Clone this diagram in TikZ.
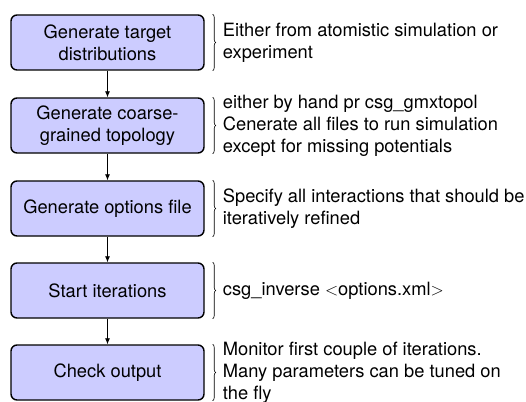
\documentclass[tikz,border=0pt]{standalone}
\usepackage{fontspec}
\setmainfont{TeX Gyre Heros}
\usetikzlibrary{arrows.meta,decorations.pathreplacing}
\tikzset{
  stepbox/.style={draw=black, line width=1.4pt, fill=blue!20, rounded corners=6pt,
    minimum width=193pt, minimum height=55pt, inner sep=0pt, align=center,
    font=\fontsize{18.3}{22}\selectfont},
  desc/.style={anchor=west, inner sep=0pt, align=left, font=\fontsize{18.3}{22}\selectfont},
  flow/.style={-{Latex[length=6pt,width=5pt]}, line width=0.8pt},
  bracket/.style={decorate, decoration={brace, amplitude=3pt}, line width=0.6pt}
}
\begin{document}
\begin{tikzpicture}[x=1pt,y=-1pt]
\useasboundingbox (0,0) rectangle (526,401);
\node[stepbox] (b1) at (107.5,42.5) {Generate target\\distributions};
\node[stepbox] (b2) at (107.5,125.5) {Generate coarse-\\grained topology};
\node[stepbox] (b3) at (107.5,208.5) {Generate options file};
\node[stepbox] (b4) at (107.5,290.5) {Start iterations};
\node[stepbox] (b5) at (107.5,372.5) {Check output};
\foreach \a/\b in {b1/b2,b2/b3,b3/b4,b4/b5}
  \draw[flow] (\a) -- (\b);
\foreach \b in {b1,b2,b3,b4,b5}
  \draw[bracket] ([xshift=8pt]\b.north east) -- ([xshift=8pt]\b.south east);
\node[desc] (t1) at ([xshift=18pt]b1.east) {Either from atomistic simulation or\\experiment};
\node[desc] (t2) at ([xshift=18pt]b2.east) {either by hand pr csg\_gmxtopol\\Cenerate all files to run simulation\\except for missing potentials};
\node[desc] (t3) at ([xshift=18pt]b3.east) {Specify all interactions that should be\\iteratively refined};
\node[desc] (t4) at ([xshift=18pt]b4.east) {csg\_inverse $<$options.xml$>$};
\node[desc] (t5) at ([xshift=18pt]b5.east) {Monitor first couple of iterations.\\Many parameters can be tuned on\\the fly};
\end{tikzpicture}
\end{document}
